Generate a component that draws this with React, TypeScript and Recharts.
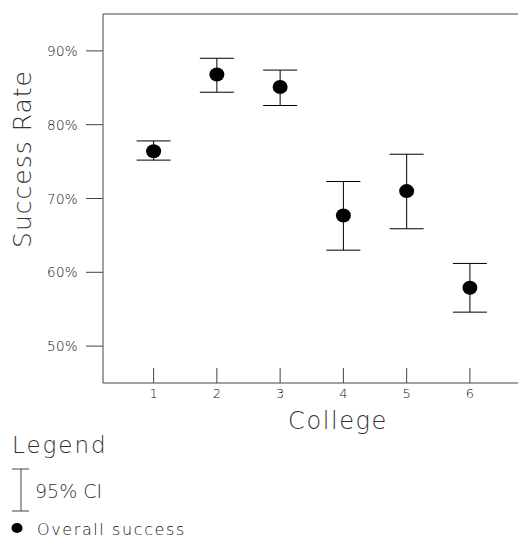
import React from 'react';
import { ScatterChart, Scatter, XAxis, YAxis, ErrorBar, ReferenceLine, Legend, Label } from 'recharts';

const colleges = [1, 2, 3, 4, 5, 6];
const successRate = [76.4, 86.8, 85.1, 67.7, 71.0, 57.9];
const ciLower = [75.2, 84.4, 82.6, 63.0, 65.9, 54.6];
const ciUpper = [77.8, 89.0, 87.4, 72.3, 76.0, 61.2];
const yTicks = [50, 60, 70, 80, 90];
const xTicks = [1, 2, 3, 4, 5, 6];

const data = colleges.map((c, i) => ({
  college: c,
  rate: successRate[i],
  err: [successRate[i] - ciLower[i], ciUpper[i] - successRate[i]],
}));

const FONT = '"DejaVu Sans", sans-serif';
const TXT = '#333';
const TICK_TXT = '#111';
const LINE = '#444';

const XTick = (props: any) => {
  const { x, y, payload } = props;
  return (
    <g>
      <line x1={x} x2={x} y1={y - 15} y2={y} stroke={LINE} strokeWidth={1} />
      <text x={x} y={y + 15} textAnchor="middle" fontSize={13} fontFamily={FONT} fill={TICK_TXT} fontWeight={300}>
        {payload.value}
      </text>
    </g>
  );
};

const YTick = (props: any) => {
  const { x, y, payload } = props;
  return (
    <text x={x} y={y} dy={5} textAnchor="end" fontSize={13.5} fontFamily={FONT} fill={TICK_TXT} fontWeight={300} letterSpacing={0.3}>
      {`${payload.value}%`}
    </text>
  );
};

const Dot = (props: any) => {
  const { cx, cy } = props;
  return <ellipse cx={cx} cy={cy} rx={7.5} ry={7} fill="#000" />;
};

const LegendContent = () => (
  <svg width={240} height={118} style={{ display: 'block' }}>
    <text x={12} y={33} fontSize={23} fontFamily={FONT} fill={TXT} fontWeight={300} letterSpacing={2}>Legend</text>
    <line x1={21} x2={21} y1={49} y2={91} stroke={LINE} strokeWidth={1} />
    <line x1={12} x2={29} y1={49} y2={49} stroke={LINE} strokeWidth={1} />
    <line x1={12} x2={29} y1={91} y2={91} stroke={LINE} strokeWidth={1} />
    <text x={35} y={78} fontSize={19} fontFamily={FONT} fill={TXT} fontWeight={300}>95% CI</text>
    <ellipse cx={17} cy={108} rx={5.5} ry={5} fill="#000" />
    <text x={37} y={115} fontSize={16} fontFamily={FONT} fill={TICK_TXT} fontWeight={300} letterSpacing={1.6}>Overall success</text>
  </svg>
);

export default function App() {
  return (
    <div style={{ position: 'absolute', left: 0, top: 0, width: 518, height: 538, background: '#fff' }}>
      <ScatterChart width={518} height={538} margin={{ top: 14, right: 0, bottom: 0, left: 0 }}>
        <XAxis
          type="number"
          dataKey="college"
          domain={[0.2, 6.76]}
          ticks={xTicks}
          allowDataOverflow
          axisLine={{ stroke: LINE }}
          tickLine={false}
          tickSize={0}
          tickMargin={0}
          tick={<XTick />}
          height={155}
          interval={0}
        >
          <Label
            content={() => (
              <text x={338} y={429} textAnchor="middle" fontSize={24} fontFamily={FONT} fill={TXT} fontWeight={300} letterSpacing={1.6}>
                College
              </text>
            )}
          />
        </XAxis>
        <YAxis
          type="number"
          dataKey="rate"
          domain={[45, 95]}
          ticks={yTicks}
          allowDataOverflow
          width={103}
          axisLine={{ stroke: LINE }}
          tickLine={{ stroke: LINE }}
          tickSize={17}
          tickMargin={8}
          tick={<YTick />}
          interval={0}
        >
          <Label
            content={() => (
              <text
                x={31}
                y={159}
                transform="rotate(-90, 31, 159)"
                textAnchor="middle"
                fontSize={25}
                fontFamily={FONT}
                fill={TXT}
                fontWeight={300}
                letterSpacing={1}
              >
                Success Rate
              </text>
            )}
          />
        </YAxis>
        <ReferenceLine y={95} stroke={LINE} strokeWidth={1} />
        <Legend
          layout="horizontal"
          verticalAlign="middle"
          content={<LegendContent />}
          wrapperStyle={{ position: 'absolute', left: 0, top: 420, width: 240, height: 118 }}
        />
        <Scatter data={data} dataKey="rate" shape={<Dot />} isAnimationActive={false} legendType="none">
          <ErrorBar dataKey="err" direction="y" width={17} stroke="#000" strokeWidth={1} isAnimationActive={false} />
        </Scatter>
      </ScatterChart>
    </div>
  );
}
